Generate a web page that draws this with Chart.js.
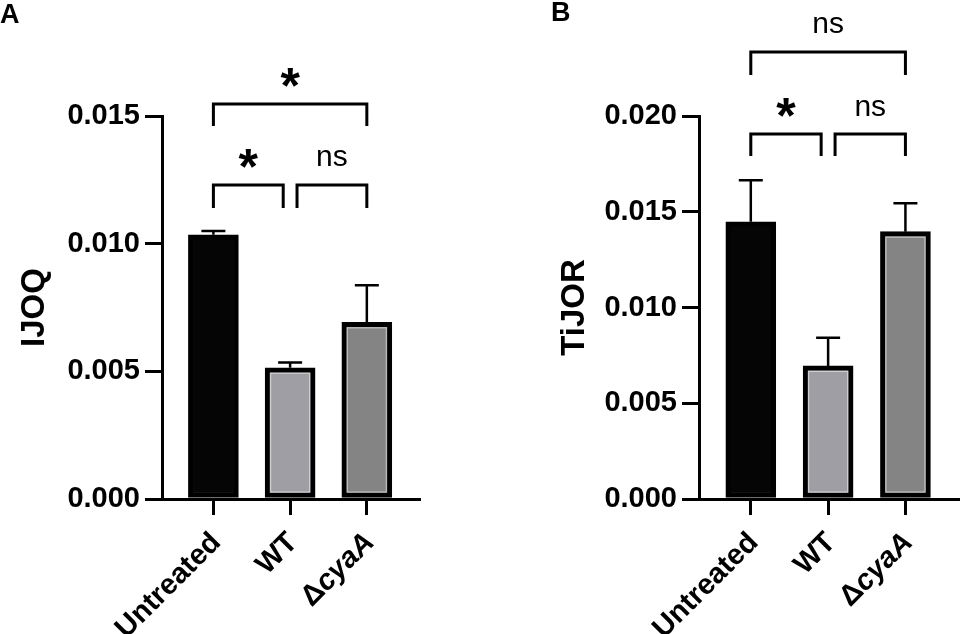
<!DOCTYPE html>
<html>
<head>
<meta charset="utf-8">
<script src="https://cdn.jsdelivr.net/npm/chart.js@4.4.0/dist/chart.umd.min.js"></script>
<style>
  html, body { margin: 0; padding: 0; background: #fff; }
  #wrap { position: relative; width: 960px; height: 634px; overflow: hidden; }
  .panel { position: absolute; top: 0; width: 480px; height: 634px; }
  .letter { position: absolute; font: bold 27px "Liberation Sans", Arial, sans-serif; color: #000; }
</style>
</head>
<body>
<div id="wrap">
  <div class="panel" style="left:0"><canvas id="chartA" width="480" height="634"></canvas></div>
  <div class="panel" style="left:480px"><canvas id="chartB" width="480" height="634"></canvas></div>
  <div class="letter" style="left:0;top:-1px">A</div>
  <div class="letter" style="left:551px;top:-3px">B</div>
</div>
<script>
// groups
const categories = ['Untreated', 'WT', 'ΔcyaA'];
const barColors = ['#050505', '#9e9ea4', '#848484'];

// panel A: IJOQ (mean + SEM)
const ijoqMeans = [0.01035, 0.00514, 0.00692];
const ijoqErrors = [0.00015, 0.00021, 0.00145];
const ijoqTicks = [0, 0.005, 0.010, 0.015];
// [label, group a, group b]
const ijoqStats = [['*', 0, 2], ['*', 0, 1], ['ns', 1, 2]];

// panel B: TiJOR
const tijorMeans = [0.01448, 0.00695, 0.01396];
const tijorErrors = [0.00216, 0.00147, 0.00148];
const tijorTicks = [0, 0.005, 0.010, 0.015, 0.020];
const tijorStats = [['ns', 0, 2], ['*', 0, 1], ['ns', 1, 2]];

const FONT = '"Liberation Sans", Arial, sans-serif';

const panels = [
    {
        id: 'chartA', title: 'IJOQ', means: ijoqMeans, errors: ijoqErrors,
        ticks: ijoqTicks, stats: ijoqStats,
        axisWidth: 162, padRight: 61, titlePad: 15,
        // [bracket height, leg drop, label centre] in data units
        wide: [0.01547, 0.00086, 0.01649],
        pair: [0.0123, 0.0009, 0.01335]
    },
    {
        id: 'chartB', title: 'TiJOR', means: tijorMeans, errors: tijorErrors,
        ticks: tijorTicks, stats: tijorStats,
        axisWidth: 219, padRight: 2, titlePad: 75,
        wide: [0.02334, 0.0012, 0.02475],
        pair: [0.01906, 0.00115, 0.02042]
    }
];

// text centred on its ink box
function drawCentered(ctx, text, cx, cy, font) {
    ctx.font = font;
    ctx.textAlign = 'center';
    ctx.textBaseline = 'alphabetic';
    const m = ctx.measureText(text);
    ctx.fillText(text, cx, cy + (m.actualBoundingBoxAscent - m.actualBoundingBoxDescent) / 2);
}

function statsPlugin(panel) {
    return {
        id: 'stats',
        afterDatasetsDraw(chart) {
            const { ctx, scales: { x, y } } = chart;
            const bars = chart.getDatasetMeta(0).data;
            ctx.save();
            // thin light edge inside the grey bars
            ctx.strokeStyle = 'rgba(255,255,255,0.5)';
            ctx.lineWidth = 1.2;
            bars.forEach((bar, i) => {
                if (i === 0) return;
                const l = bar.x - bar.width / 2 + 5.5, r = bar.x + bar.width / 2 - 5.5;
                ctx.strokeRect(l, bar.y + 5.5, r - l, bar.base - bar.y - 11);
            });
            // error bars (upper only)
            ctx.strokeStyle = '#000';
            ctx.lineWidth = 2.5;
            panel.means.forEach((m, i) => {
                const px = x.getPixelForValue(i);
                const y0 = y.getPixelForValue(m);
                const y1 = y.getPixelForValue(m + panel.errors[i]);
                ctx.beginPath();
                ctx.moveTo(px, y0);
                ctx.lineTo(px, y1);
                ctx.moveTo(px - 12, y1);
                ctx.lineTo(px + 12, y1);
                ctx.stroke();
            });
            ctx.restore();
        },
        afterDraw(chart) {
            const { ctx, scales: { x, y } } = chart;
            ctx.save();
            ctx.fillStyle = '#000';
            ctx.strokeStyle = '#000';
            ctx.lineWidth = 3;
            // significance brackets
            panel.stats.forEach(([label, a, b]) => {
                const isWide = b - a > 1;
                const lv = isWide ? panel.wide : panel.pair;
                let xa = a, xb = b;
                if (!isWide) {
                    if (panel.stats.some(s => s[1] === b && s[2] - s[1] === 1)) xb -= 0.09;
                    if (panel.stats.some(s => s[2] === a && s[2] - s[1] === 1)) xa += 0.09;
                }
                const x0 = x.getPixelForValue(xa), x1 = x.getPixelForValue(xb);
                const yTop = y.getPixelForValue(lv[0]);
                const yLeg = y.getPixelForValue(lv[0] - lv[1]);
                ctx.beginPath();
                ctx.moveTo(x0, yLeg);
                ctx.lineTo(x0, yTop);
                ctx.lineTo(x1, yTop);
                ctx.lineTo(x1, yLeg);
                ctx.stroke();
                const font = label === '*' ? 'bold 50px ' + FONT : '30px ' + FONT;
                drawCentered(ctx, label, (x0 + x1) / 2, y.getPixelForValue(lv[2]), font);
            });
            // rotated group labels, cyaA in italics
            categories.forEach((name, i) => {
                ctx.save();
                ctx.translate(x.getPixelForValue(i) + 3, 538);
                ctx.rotate(-Math.PI / 4);
                ctx.textBaseline = 'middle';
                ctx.textAlign = 'left';
                if (name.startsWith('Δ')) {
                    ctx.font = 'bold 29px ' + FONT;
                    const w1 = ctx.measureText('Δ').width;
                    ctx.font = 'italic bold 29px ' + FONT;
                    const w2 = ctx.measureText(name.slice(1)).width;
                    ctx.fillText(name.slice(1), -w2, 0);
                    ctx.font = 'bold 29px ' + FONT;
                    ctx.fillText('Δ', -w2 - w1, 0);
                } else {
                    ctx.font = 'bold 29px ' + FONT;
                    ctx.textAlign = 'right';
                    ctx.fillText(name, 0, 0);
                }
                ctx.restore();
            });
            ctx.restore();
        }
    };
}

panels.forEach(panel => {
    const ctx = document.getElementById(panel.id).getContext('2d');
    new Chart(ctx, {
        type: 'bar',
        data: {
            datasets: [{
                data: panel.means.map((v, i) => ({ x: i, y: v })),
                backgroundColor: barColors,
                borderColor: '#000',
                borderWidth: 5,
                borderSkipped: false,
                barThickness: 50
            }]
        },
        options: {
            responsive: false,
            animation: false,
            layout: { padding: { top: 116, left: 0, right: panel.padRight, bottom: 0 } },
            plugins: { legend: { display: false }, tooltip: { enabled: false } },
            scales: {
                x: {
                    type: 'linear',
                    offset: false,
                    min: -0.67,
                    max: 2.68,
                    afterBuildTicks: s => { s.ticks = categories.map((c, i) => ({ value: i })); },
                    afterFit: s => { s.height = 135; s.paddingLeft = 0; s.paddingRight = 0; },
                    ticks: { display: false },
                    grid: { offset: false, drawOnChartArea: false, drawTicks: true, tickLength: 16, color: '#000', lineWidth: 3 },
                    border: { display: true, color: '#000', width: 3 }
                },
                y: {
                    min: 0,
                    max: panel.ticks[panel.ticks.length - 1],
                    afterBuildTicks: s => { s.ticks = panel.ticks.map(v => ({ value: v })); },
                    afterFit: s => { s.width = panel.axisWidth; s.paddingTop = 0; s.paddingBottom = 0; },
                    ticks: {
                        color: '#000',
                        padding: 5,
                        font: { family: FONT, size: 29, weight: 'bold' },
                        callback: v => v.toFixed(3)
                    },
                    grid: { drawOnChartArea: false, drawTicks: true, tickLength: 17, color: '#000', lineWidth: 3 },
                    border: { display: true, color: '#000', width: 3 },
                    title: {
                        display: true,
                        text: panel.title,
                        color: '#000',
                        font: { family: FONT, size: 33, weight: 'bold' },
                        padding: { top: panel.titlePad, bottom: 0 }
                    }
                }
            }
        },
        plugins: [statsPlugin(panel)]
    });
});
</script>
</body>
</html>
